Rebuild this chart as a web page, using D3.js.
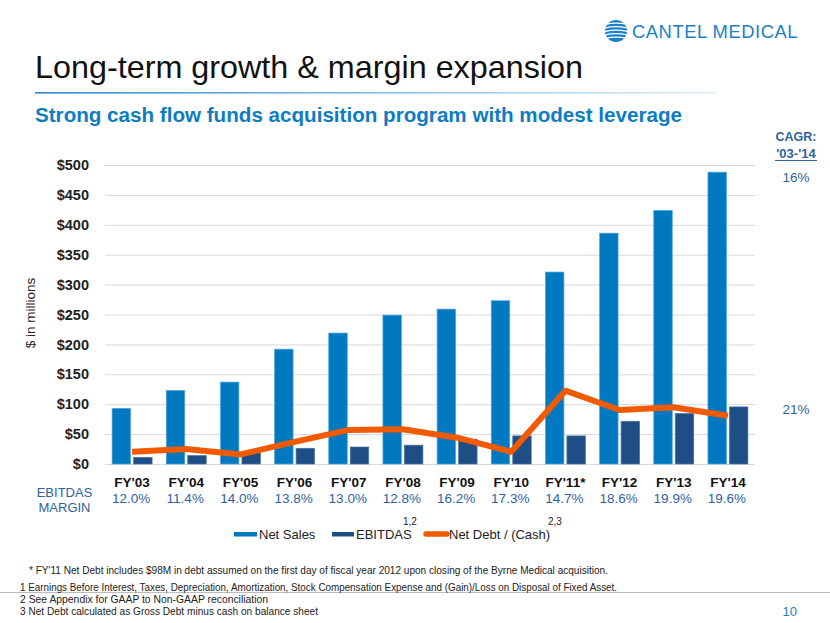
<!DOCTYPE html>
<html>
<head>
<meta charset="utf-8">
<script src="https://cdn.jsdelivr.net/npm/d3@7/dist/d3.min.js"></script>
<style>
  html, body { margin: 0; padding: 0; background: #fff; }
  svg { display: block; font-family: "Liberation Sans", Arial, sans-serif; }
</style>
</head>
<body>
<svg id="chart" width="830" height="623"></svg>
<script>
// ---- data ----
const categories = ["FY'03","FY'04","FY'05","FY'06","FY'07","FY'08","FY'09","FY'10","FY'11*","FY'12","FY'13","FY'14"];
const netSales   = [93, 123, 137, 192, 219, 249, 259, 273, 321, 386, 424, 488];
const ebitdas    = [11.2, 14, 18.5, 26.3, 28.4, 31.5, 41.5, 47, 47, 71.5, 84.3, 95.5];
const netDebt    = [20.6, 25, 16, 37, 57, 58, 44, 20.5, 122.6, 90.3, 94.8, 80.8];
const margins    = ["12.0%","11.4%","14.0%","13.8%","13.0%","12.8%","16.2%","17.3%","14.7%","18.6%","19.9%","19.6%"];
const yTicks     = [0, 50, 100, 150, 200, 250, 300, 350, 400, 450, 500];
const seriesKeys = ["Net Sales", "EBITDAS"];
const footnotes  = [
  "* FY'11 Net Debt includes $98M in debt assumed on the first day of fiscal year 2012 upon closing of the Byrne Medical acquisition.",
  "1 Earnings Before Interest, Taxes, Depreciation, Amortization, Stock Compensation Expense and (Gain)/Loss on Disposal of Fixed Asset.",
  "2 See Appendix for GAAP to Non-GAAP reconciliation",
  "3 Net Debt calculated as Gross Debt minus cash on balance sheet"
];

const salesColor = "#0079C1", ebitdaColor = "#1F4E86", debtColor = "#F05A00";
const labelBlue = "#2F62A0";

const svg = d3.select("#chart");

// ---- helpers ----
function fitText(sel, width) {
  const node = sel.node();
  const w = node.getComputedTextLength();
  if (w > 0) sel.attr("textLength", width).attr("lengthAdjust", "spacingAndGlyphs");
  return sel;
}

// ---- logo ----
const logo = svg.append("g");
const defs = svg.append("defs");
defs.append("clipPath").attr("id", "globeClip")
  .append("circle").attr("cx", 616).attr("cy", 31).attr("r", 11);
logo.append("circle").attr("cx", 616).attr("cy", 31).attr("r", 11).attr("fill", "#1A80C8");
const stripes = logo.append("g").attr("clip-path", "url(#globeClip)");
[24, 27.5, 31, 34.5, 38].forEach((yy, i) => {
  stripes.append("path")
    .attr("d", `M600,${yy + 2} Q614,${yy - 3} 630,${yy + 1}`)
    .attr("stroke", "#fff").attr("stroke-width", 1.3).attr("fill", "none");
});
fitText(logo.append("text").attr("x", 632).attr("y", 37.5)
  .attr("font-size", 17.5).attr("fill", "#1A80C8").attr("letter-spacing", 0.5)
  .text("CANTEL MEDICAL"), 166);

// ---- title ----
fitText(svg.append("text").attr("x", 35).attr("y", 78)
  .attr("font-size", 32).attr("fill", "#111")
  .text("Long-term growth & margin expansion"), 548);

const grad = defs.append("linearGradient").attr("id", "ruleGrad")
  .attr("x1", "0%").attr("x2", "100%");
grad.append("stop").attr("offset", "0%").attr("stop-color", "#2C8BD0");
grad.append("stop").attr("offset", "100%").attr("stop-color", "#2C8BD0").attr("stop-opacity", 0.15);
svg.append("rect").attr("x", 35).attr("y", 92).attr("width", 680).attr("height", 1.6)
  .attr("fill", "url(#ruleGrad)");

fitText(svg.append("text").attr("x", 35).attr("y", 122)
  .attr("font-size", 20).attr("font-weight", "bold").attr("fill", "#0E7CC2")
  .text("Strong cash flow funds acquisition program with modest leverage"), 647);

// ---- scales ----
const x = d3.scaleBand().domain(categories).range([105, 755]).paddingInner(0).paddingOuter(0);
const xs = d3.scaleBand().domain(seriesKeys).range([0, x.bandwidth()]).paddingInner(0.14).paddingOuter(0.33);
const y = d3.scaleLinear().domain([0, 500]).range([464, 165]);

// gridlines
const yAxis = d3.axisLeft(y).tickValues(yTicks).tickSize(-(755 - 105)).tickFormat(d => "$" + d).tickPadding(16);
const gy = svg.append("g").attr("transform", "translate(105,0)").call(yAxis);
gy.select(".domain").remove();
gy.selectAll(".tick line").attr("stroke", "#D9D9D9").attr("stroke-width", 1);
gy.selectAll(".tick text").attr("font-size", 14.5).attr("font-weight", "bold").attr("fill", "#222")
  .attr("font-family", "Liberation Sans, Arial, sans-serif");

// y axis title
svg.append("text").attr("transform", "translate(35,313) rotate(-90)")
  .attr("text-anchor", "middle").attr("font-size", 13.5).attr("fill", "#222")
  .text("$ in millions");

// bars
const barG = svg.append("g");
barG.selectAll("rect.sales").data(categories).join("rect")
  .attr("class", "sales")
  .attr("x", (d) => x(d) + xs("Net Sales"))
  .attr("width", xs.bandwidth())
  .attr("y", (d, i) => y(netSales[i]))
  .attr("height", (d, i) => y(0) - y(netSales[i]))
  .attr("fill", salesColor).attr("stroke", "#4FA6DD").attr("stroke-width", 0.7);
barG.selectAll("rect.ebit").data(categories).join("rect")
  .attr("class", "ebit")
  .attr("x", (d) => x(d) + xs("EBITDAS"))
  .attr("width", xs.bandwidth())
  .attr("y", (d, i) => y(ebitdas[i]))
  .attr("height", (d, i) => y(0) - y(ebitdas[i]))
  .attr("fill", ebitdaColor).attr("stroke", "#4B73A6").attr("stroke-width", 0.7);

// net debt line
const line = d3.line().x((d, i) => x(categories[i]) + x.bandwidth() / 2).y(d => y(d));
svg.append("path").datum(netDebt).attr("d", line)
  .attr("fill", "none").attr("stroke", debtColor).attr("stroke-width", 6)
  .attr("stroke-linejoin", "round");

// x labels
svg.append("g").selectAll("text").data(categories).join("text")
  .attr("x", d => x(d) + x.bandwidth() / 2).attr("y", 487)
  .attr("text-anchor", "middle").attr("font-size", 13.5).attr("font-weight", "bold").attr("fill", "#111")
  .text(d => d);

// margins
svg.append("g").selectAll("text").data(margins).join("text")
  .attr("x", (d, i) => x(categories[i]) + x.bandwidth() / 2 - 1).attr("y", 503)
  .attr("text-anchor", "middle").attr("font-size", 13.5).attr("fill", labelBlue)
  .text(d => d);

svg.append("text").attr("x", 64.5).attr("y", 496.5).attr("text-anchor", "middle")
  .attr("font-size", 13).attr("fill", labelBlue).text("EBITDAS");
svg.append("text").attr("x", 64.5).attr("y", 512).attr("text-anchor", "middle")
  .attr("font-size", 13).attr("fill", labelBlue).text("MARGIN");

// legend
const lg = svg.append("g");
lg.append("rect").attr("x", 234).attr("y", 532).attr("width", 23).attr("height", 4.5).attr("fill", salesColor);
lg.append("text").attr("x", 259).attr("y", 538.5).attr("font-size", 13).attr("fill", "#222").text("Net Sales");
lg.append("rect").attr("x", 332).attr("y", 532).attr("width", 22).attr("height", 4.5).attr("fill", ebitdaColor);
lg.append("text").attr("x", 356).attr("y", 538.5).attr("font-size", 13).attr("fill", "#222").text("EBITDAS");
lg.append("text").attr("x", 403).attr("y", 525).attr("font-size", 10).attr("fill", "#222").text("1,2");
lg.append("line").attr("x1", 426).attr("x2", 447).attr("y1", 534).attr("y2", 534)
  .attr("stroke", debtColor).attr("stroke-width", 5.5).attr("stroke-linecap", "round");
lg.append("text").attr("x", 449).attr("y", 538.5).attr("font-size", 13).attr("fill", "#222").text("Net Debt / (Cash)");
lg.append("text").attr("x", 548).attr("y", 525).attr("font-size", 10).attr("fill", "#222").text("2,3");

// CAGR
const cg = svg.append("g").attr("fill", labelBlue).attr("text-anchor", "middle");
cg.append("text").attr("x", 796).attr("y", 141).attr("font-size", 12.5).attr("font-weight", "bold").text("CAGR:");
cg.append("text").attr("x", 796).attr("y", 158).attr("font-size", 13).attr("font-weight", "bold").text("'03-'14");
cg.append("line").attr("x1", 775).attr("x2", 817).attr("y1", 160.5).attr("y2", 160.5).attr("stroke", labelBlue).attr("stroke-width", 1);
cg.append("text").attr("x", 796).attr("y", 182).attr("font-size", 13.5).text("16%");
cg.append("text").attr("x", 796).attr("y", 414).attr("font-size", 13.5).text("21%");

// footer rule
svg.append("line").attr("x1", 0).attr("x2", 830).attr("y1", 592.5).attr("y2", 592.5)
  .attr("stroke", "#BDBDBD").attr("stroke-width", 1);

// footnotes
const fx = [29, 20, 20, 20], fy = [574, 590.5, 602.5, 614.5], fw = [579, 597, 248, 298];
footnotes.forEach((t, i) => {
  fitText(svg.append("text").attr("x", fx[i]).attr("y", fy[i]).attr("font-size", 11)
    .attr("fill", "#222").text(t), fw[i]);
});
svg.append("text").attr("x", 797).attr("y", 616).attr("text-anchor", "end")
  .attr("font-size", 13).attr("fill", "#1A80C8").text("10");
</script>
</body>
</html>
